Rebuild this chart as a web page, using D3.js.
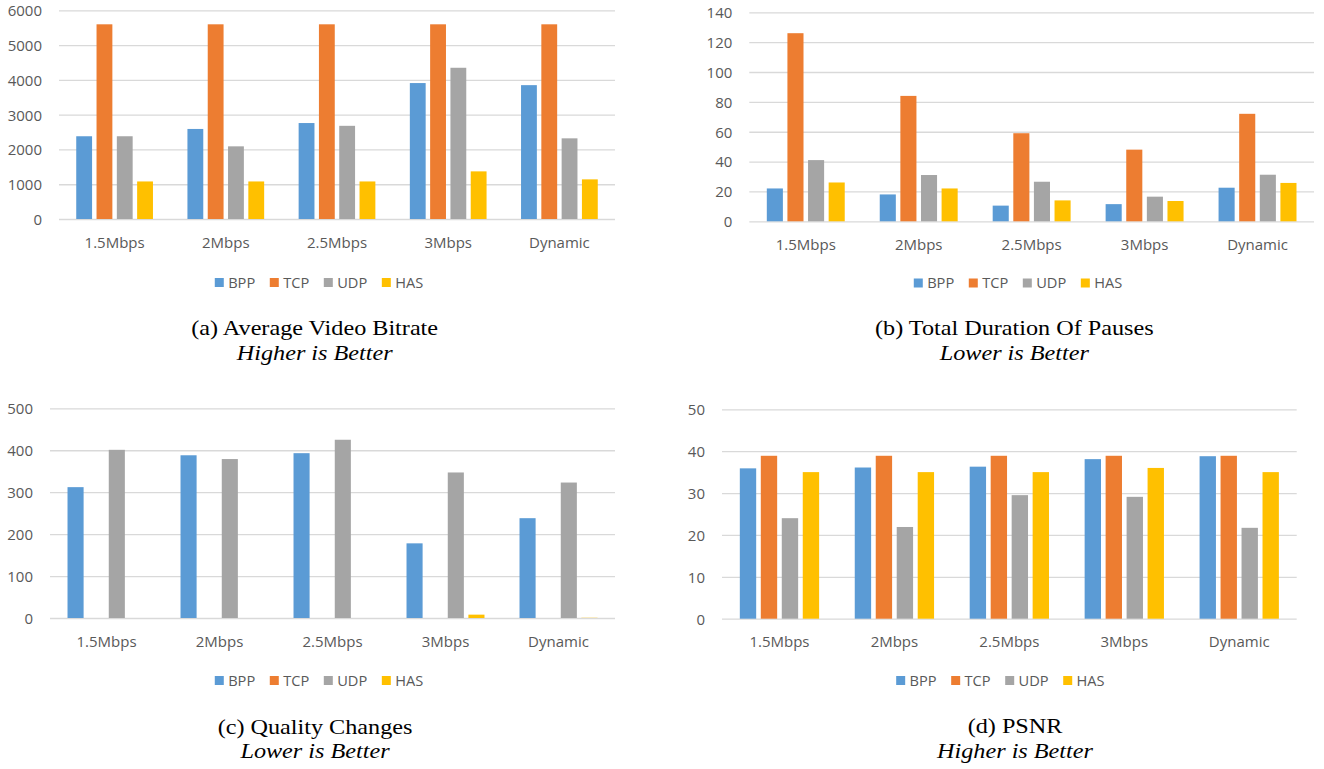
<!DOCTYPE html>
<html>
<head>
<meta charset="utf-8">
<script src="https://cdn.jsdelivr.net/npm/d3@7"></script>
<style>
  html, body { margin: 0; padding: 0; background: #ffffff; }
  svg { display: block; }
  .tick text { font-family: "Open Sans", sans-serif; font-size: 15px; fill: #595959; }
  .legend text { font-family: "Open Sans", sans-serif; font-size: 14.6px; fill: #595959; }
  .caption text { font-family: "Liberation Serif", "Times New Roman", serif; font-size: 22px; fill: #000; }
</style>
</head>
<body>
<svg id="fig" width="1324" height="769"></svg>
<script>
// Shared categories and series
const categories = ["1.5Mbps", "2Mbps", "2.5Mbps", "3Mbps", "Dynamic"];
const seriesNames = ["BPP", "TCP", "UDP", "HAS"];
const seriesColors = ["#5B9BD5", "#ED7D31", "#A5A5A5", "#FFC000"];

// (a) Average video bitrate
const bitrateBPP = [2380, 2590, 2760, 3910, 3850];
const bitrateTCP = [5600, 5600, 5600, 5600, 5600];
const bitrateUDP = [2380, 2090, 2680, 4350, 2320];
const bitrateHAS = [1080, 1080, 1080, 1370, 1140];
const bitrateTicks = [0, 1000, 2000, 3000, 4000, 5000, 6000];

// (b) Total duration of pauses
const pausesBPP = [22, 18, 10.5, 11.5, 22.5];
const pausesTCP = [126, 84, 59, 48, 72];
const pausesUDP = [41, 31, 26.5, 16.5, 31.2];
const pausesHAS = [26, 22, 14, 13.6, 25.7];
const pausesTicks = [0, 20, 40, 60, 80, 100, 120, 140];

// (c) Quality changes
const changesBPP = [312, 388, 393, 178, 238];
const changesTCP = [0, 0, 0, 0, 0];
const changesUDP = [401, 379, 425, 347, 323];
const changesHAS = [0, 0, 0, 8, 0.5];
const changesTicks = [0, 100, 200, 300, 400, 500];

// (d) PSNR
const psnrBPP = [35.9, 36.1, 36.3, 38.1, 38.8];
const psnrTCP = [38.9, 38.9, 38.9, 38.9, 38.9];
const psnrUDP = [24.0, 21.9, 29.5, 29.1, 21.7];
const psnrHAS = [35.0, 35.0, 35.0, 36.0, 35.0];
const psnrTicks = [0, 10, 20, 30, 40, 50];

const captionTitles = ["(a) Average Video Bitrate", "(b) Total Duration Of Pauses", "(c) Quality Changes", "(d) PSNR"];
const captionNotes = ["Higher is Better", "Lower is Better", "Lower is Better", "Higher is Better"];

const panels = [
  { series: [bitrateBPP, bitrateTCP, bitrateUDP, bitrateHAS], ticks: bitrateTicks,
    x: [59, 615], y: [219, 10.4], legendCx: 319, legendY: 282.5, captionCx: 314.7, captionY: 335.3 },
  { series: [pausesBPP, pausesTCP, pausesUDP, pausesHAS], ticks: pausesTicks,
    x: [749.3, 1314], y: [221.3, 12.3], legendCx: 1018, legendY: 283, captionCx: 1014.3, captionY: 335 },
  { series: [changesBPP, changesTCP, changesUDP, changesHAS], ticks: changesTicks,
    x: [50, 615], y: [618, 408.3], legendCx: 319, legendY: 680.5, captionCx: 315, captionY: 733.5 },
  { series: [psnrBPP, psnrTCP, psnrUDP, psnrHAS], ticks: psnrTicks,
    x: [722, 1296.7], y: [618.7, 409.3], legendCx: 1000.4, legendY: 680.5, captionCx: 1015, captionY: 733.3 }
];

const svg = d3.select("#fig");

panels.forEach((p, i) => {
  const g = svg.append("g");
  const width = p.x[1] - p.x[0];

  const x0 = d3.scaleBand().domain(categories).range(p.x).padding(0);
  const groupW = x0.step() * 0.69;
  const x1 = d3.scaleBand().domain(seriesNames).range([0, groupW]).paddingInner(0.22).paddingOuter(0);
  const y = d3.scaleLinear().domain([0, d3.max(p.ticks)]).range(p.y);

  // Horizontal gridlines with value labels
  const yAxis = g.append("g")
    .attr("transform", `translate(${p.x[0]},0)`)
    .call(d3.axisLeft(y).tickValues(p.ticks).tickFormat(d3.format("d"))
      .tickSizeInner(-width).tickSizeOuter(0).tickPadding(17));
  yAxis.select(".domain").remove();
  yAxis.selectAll(".tick line").attr("stroke", "#d9d9d9").attr("stroke-width", 1.3);
  yAxis.selectAll(".tick text").attr("dy", "0.36em");

  // Grouped bars
  const rows = categories.map((c, ci) => ({ cat: c, vals: p.series.map((s, si) => ({ name: seriesNames[si], v: s[ci], color: seriesColors[si] })) }));
  g.append("g").selectAll("g").data(rows).join("g")
    .attr("transform", d => `translate(${x0(d.cat) + (x0.step() - groupW) / 2},0)`)
    .selectAll("rect").data(d => d.vals.filter(v => v.v > 0)).join("rect")
      .attr("x", d => x1(d.name))
      .attr("width", x1.bandwidth())
      .attr("y", d => y(d.v))
      .attr("height", d => y(0) - y(d.v))
      .attr("fill", d => d.color);

  // Category labels
  const xAxis = g.append("g")
    .attr("transform", `translate(0,${p.y[0]})`)
    .call(d3.axisBottom(x0).tickSize(0).tickPadding(18));
  xAxis.select(".domain").remove();
  xAxis.selectAll(".tick text").attr("dy", "0").attr("y", 28.8);

  // Legend
  const lg = g.append("g").attr("class", "legend");
  const items = lg.selectAll("g").data(seriesNames).join("g");
  items.append("rect").attr("width", 9).attr("height", 9).attr("y", -4.5)
    .attr("fill", (d, k) => seriesColors[k]);
  items.append("text").attr("x", 13.4).attr("dy", "0.36em").text(d => d);
  let cursor = 0;
  items.each(function () {
    const t = d3.select(this).select("text").node().getComputedTextLength();
    d3.select(this).attr("transform", `translate(${cursor},0)`);
    cursor += 13.4 + t + 14.6;
  });
  const legendW = cursor - 14.6;
  lg.attr("transform", `translate(${p.legendCx - legendW / 2},${p.legendY})`);

  // Caption below each panel
  const cap = g.append("g").attr("class", "caption")
    .attr("transform", `translate(${p.captionCx},${p.captionY}) scale(1.1,1)`);
  cap.append("text").attr("text-anchor", "middle").text(captionTitles[i]);
  cap.append("text").attr("text-anchor", "middle").attr("y", 24.8)
    .attr("font-style", "italic").text(captionNotes[i]);
});
</script>
</body>
</html>
